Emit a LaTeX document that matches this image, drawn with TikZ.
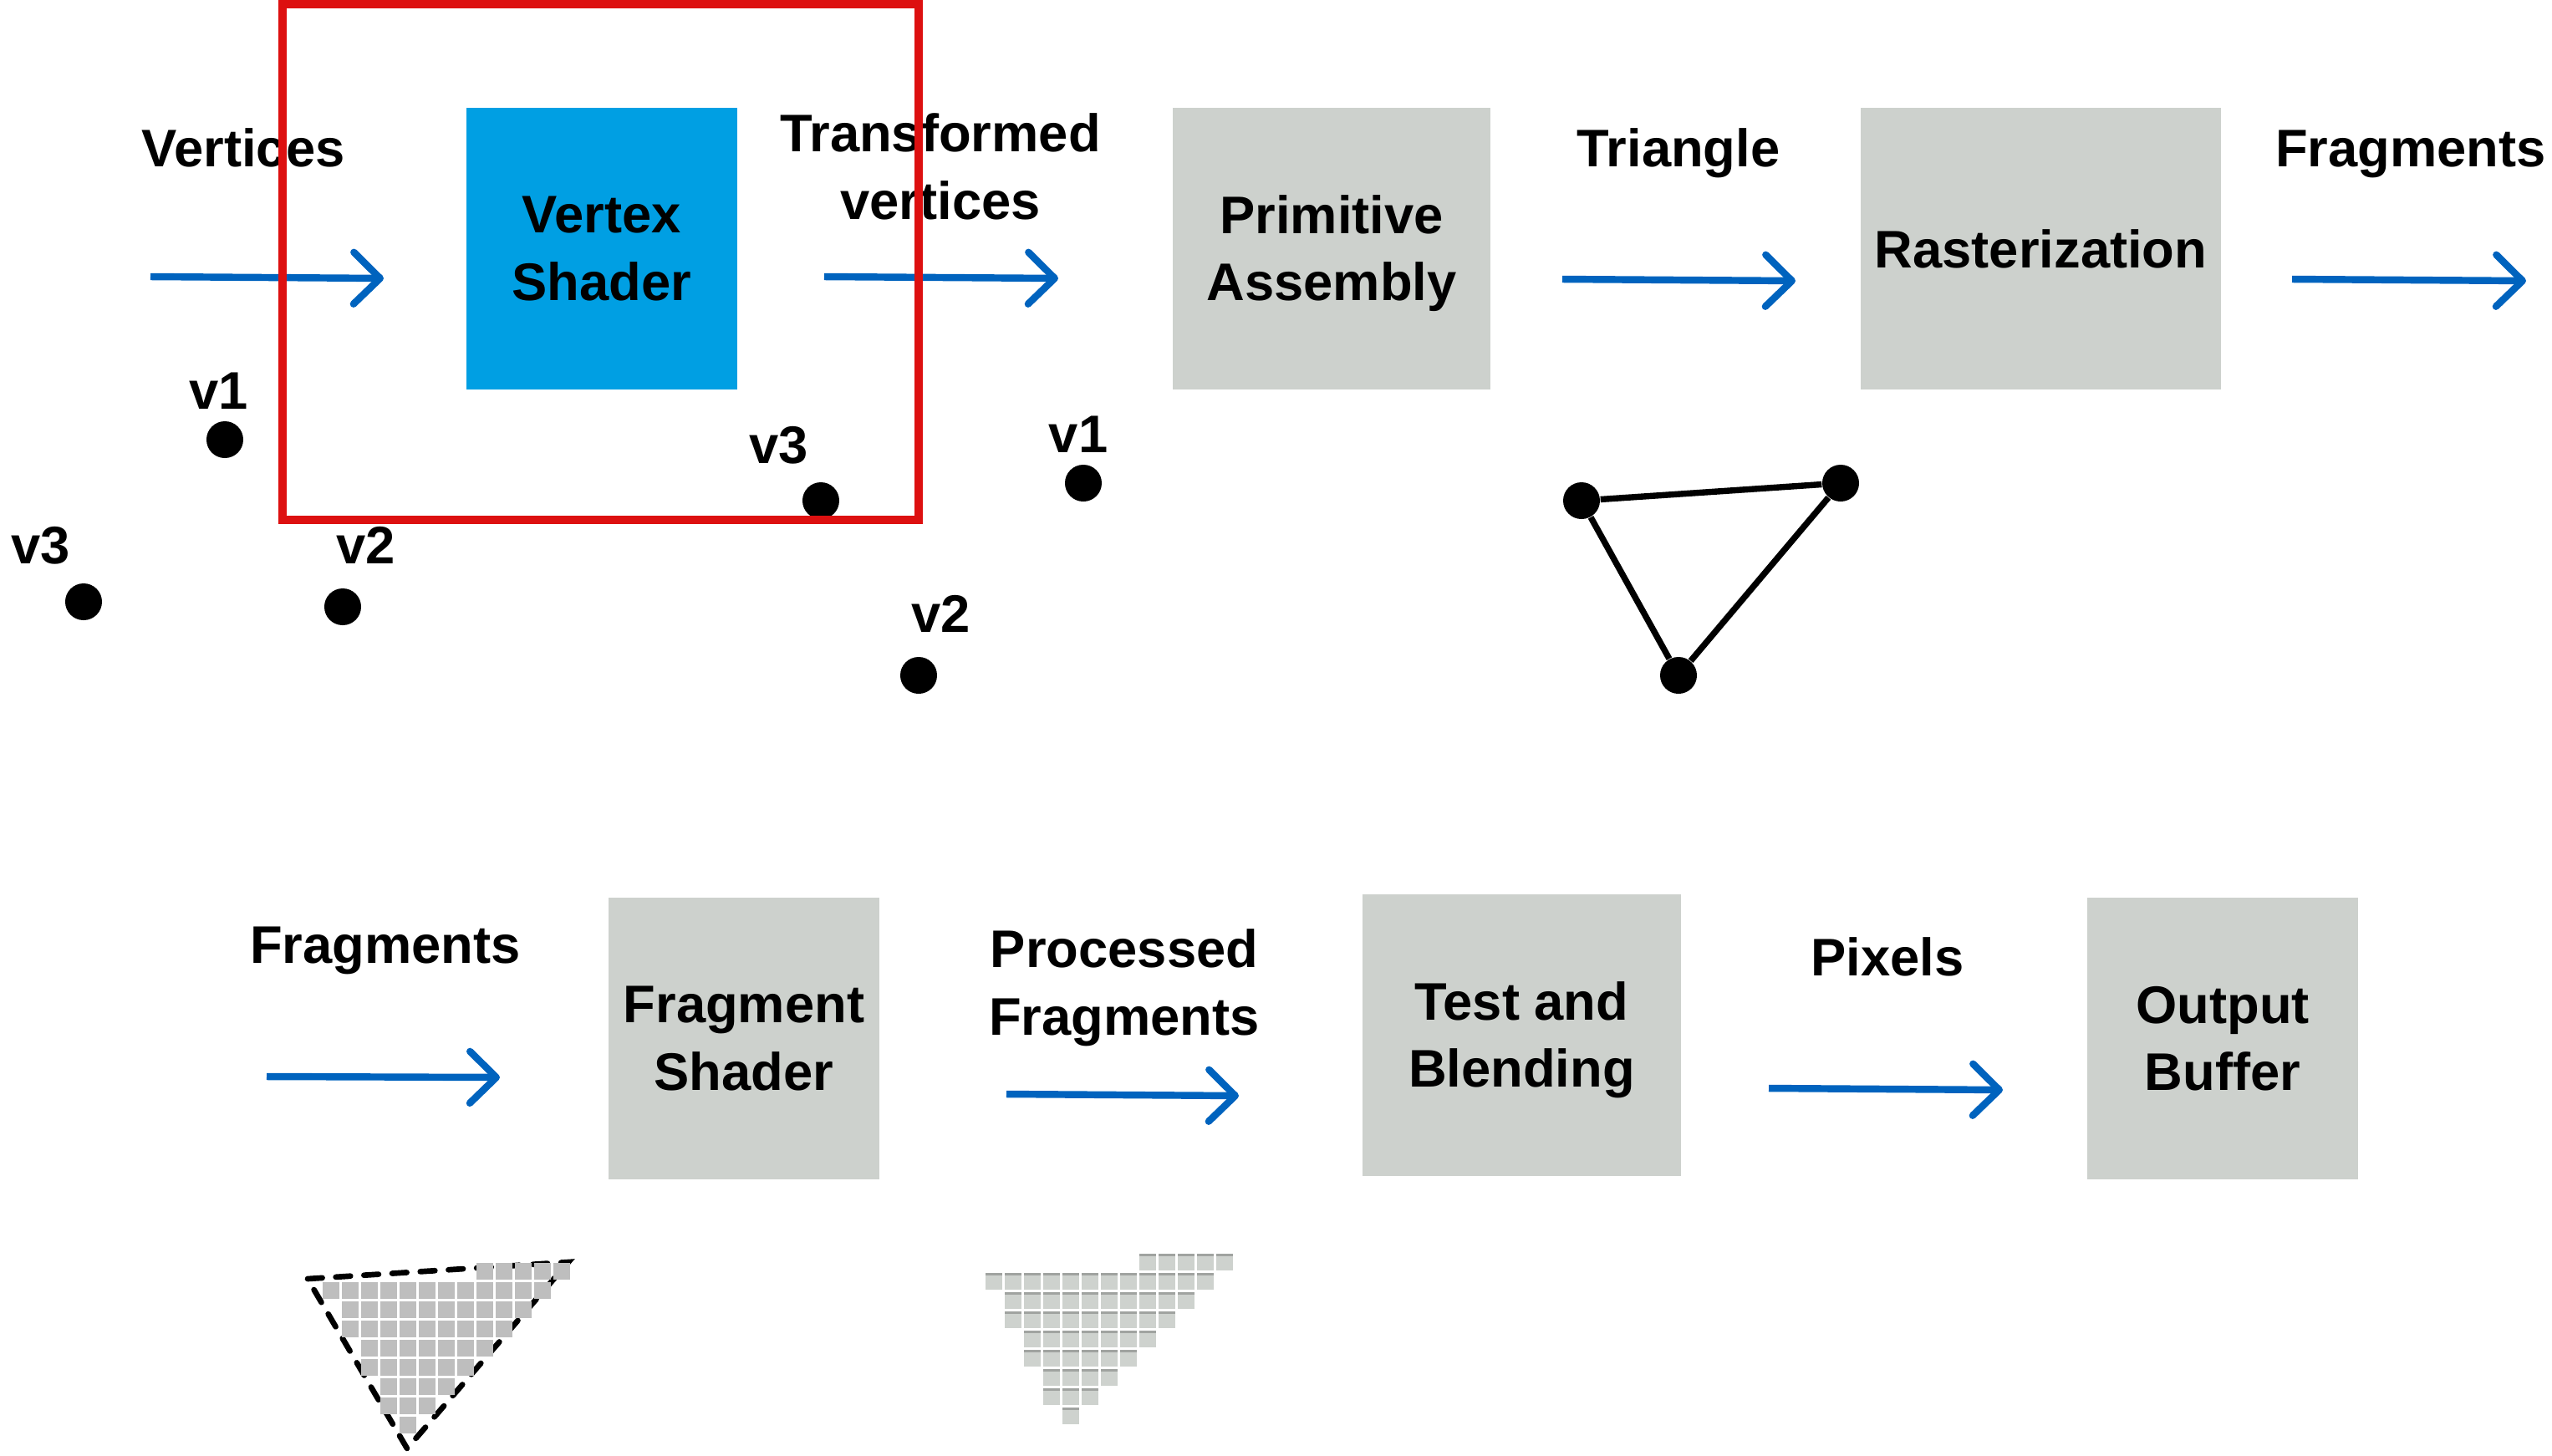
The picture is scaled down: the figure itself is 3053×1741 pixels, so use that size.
\documentclass[tikz,border=0pt]{standalone}
\usepackage{fontspec}
\setmainfont{Liberation Sans}
\usetikzlibrary{arrows.meta}
\definecolor{shaderblue}{RGB}{0,159,227}
\definecolor{stagegray}{RGB}{205,209,205}
\definecolor{flowblue}{RGB}{0,99,190}
\definecolor{focusred}{RGB}{221,16,16}
\definecolor{cellgray}{RGB}{190,190,190}
\definecolor{celllight}{RGB}{206,210,206}
\definecolor{celledge}{RGB}{160,163,160}

\begin{document}
\begin{tikzpicture}[x=0.01cm, y=-0.01cm,
        txt/.style={font=\fontsize{18}{22.8}\selectfont\bfseries, inner sep=0pt},
        stage/.style={txt, rectangle, fill=stagegray, minimum height=3.37cm, align=center},
        tag/.style={txt, anchor=base, align=center},
        flow/.style={draw=flowblue, line width=2.4pt, -{Straight Barb[length=9pt,width=17.6pt,round]}},
        vdot/.style={circle, fill=black, minimum size=0.44cm, inner sep=0pt},
        fragedge/.style={line width=1.9pt, dash pattern=on 5pt off 4.6pt, line cap=round}]
        \useasboundingbox (0,0) rectangle (3053,1741);

        % Pipeline stages
        \node[stage, fill=shaderblue, minimum width=3.24cm] (vs) at (720,297.5) {Vertex\\Shader};
        \node[stage, minimum width=3.80cm] (pa) at (1593,297.5) {};
        \node[txt, align=center, yshift=-0.06cm] (pa-t) at (pa) {Primitive\\Assembly};
        \node[stage, minimum width=4.31cm] (ra) at (2441.5,297.5) {Rasterization};
        \node[stage, minimum width=3.24cm] (fs) at (890,1242.5) {Fragment\\Shader};
        \node[stage, minimum width=3.81cm] (tb) at (1820.5,1238.5) {};
        \node[txt, align=center, yshift=-0.06cm] (tb-t) at (tb) {Test and\\Blending};
        \node[stage, minimum width=3.24cm] (ob) at (2659,1242.5) {Output\\Buffer};

        % Data labels
        \node[tag] (lvert) at (291,199) {Vertices};
        \node[tag] (ltrans) at (1125,262) {Transformed\\vertices};
        \node[tag] (ltri) at (2008,199) {Triangle};
        \node[tag] (lfrag) at (2884,199) {Fragments};
        \node[tag] (lfragb) at (461,1152) {Fragments};
        \node[tag] (lproc) at (1345,1238) {Processed\\Fragments};
        \node[tag] (lpix) at (2258,1167) {Pixels};

        % Flow arrows between the stages
        \foreach \n/\xa/\ya/\xb/\yb in {1/180/331/459/333, 2/986/331/1266/333, 3/1869/334/2148/336,
                4/2742/334/3022/336, 5/319/1288/598/1289, 6/1204/1309/1482/1311, 7/2116/1302/2396/1304} {
            \coordinate (s\n) at (\xa,\ya);
            \coordinate (e\n) at (\xb,\yb);
            \draw[flow] (s\n) -- (e\n);
        }

        % Loose vertices before and after the vertex shader
        \foreach \n/\px/\py/\lx/\ly/\t in {p1/269/526/262/489/v1, p3/100/720/49/674/v3, p2/410/726/438/674/v2,
                q3/982/599/932/554/v3, q2/1099/808/1126/756/v2, q1/1296/578/1290/541/v1} {
            \node[vdot] (\n) at (\px,\py) {};
            \node[tag] (\n-l) at (\lx,\ly) {\t};
        }

        % Assembled triangle
        \node[vdot] (t1) at (1892,599) {};
        \node[vdot] (t2) at (2202,578) {};
        \node[vdot] (t3) at (2008,808) {};
        \draw[line width=2.1pt] (t1) -- (t2) -- (t3) -- (t1);

        % Rasterized fragments and processed fragments
        \coordinate (f1) at (368,1530);
        \coordinate (f2) at (680,1510);
        \coordinate (f3) at (487,1733);
        \draw[fragedge] (f1) -- (f2) -- (f3) -- cycle;
        \foreach \r/\a/\b in {0/8/12, 1/0/11, 2/1/10, 3/1/9, 4/2/8, 5/2/7, 6/3/6, 7/3/5, 8/4/4}
            \foreach \c in {\a,...,\b} {
                \fill[cellgray] ({386+23*\c},{1511+23*\r}) rectangle ++(20,20);
                \fill[celllight] ({1179+23*\c},{1500+23*\r}) rectangle ++(20,20);
                \fill[celledge] ({1179+23*\c},{1500+23*\r}) rectangle ++(20,3);
            }

        % Highlight frame round the vertex shader
        \node[draw=focusred, line width=2.7pt, minimum width=7.61cm, minimum height=6.17cm, inner sep=0pt] (focus) at (718.5,313.5) {};
    \end{tikzpicture}
\end{document}
